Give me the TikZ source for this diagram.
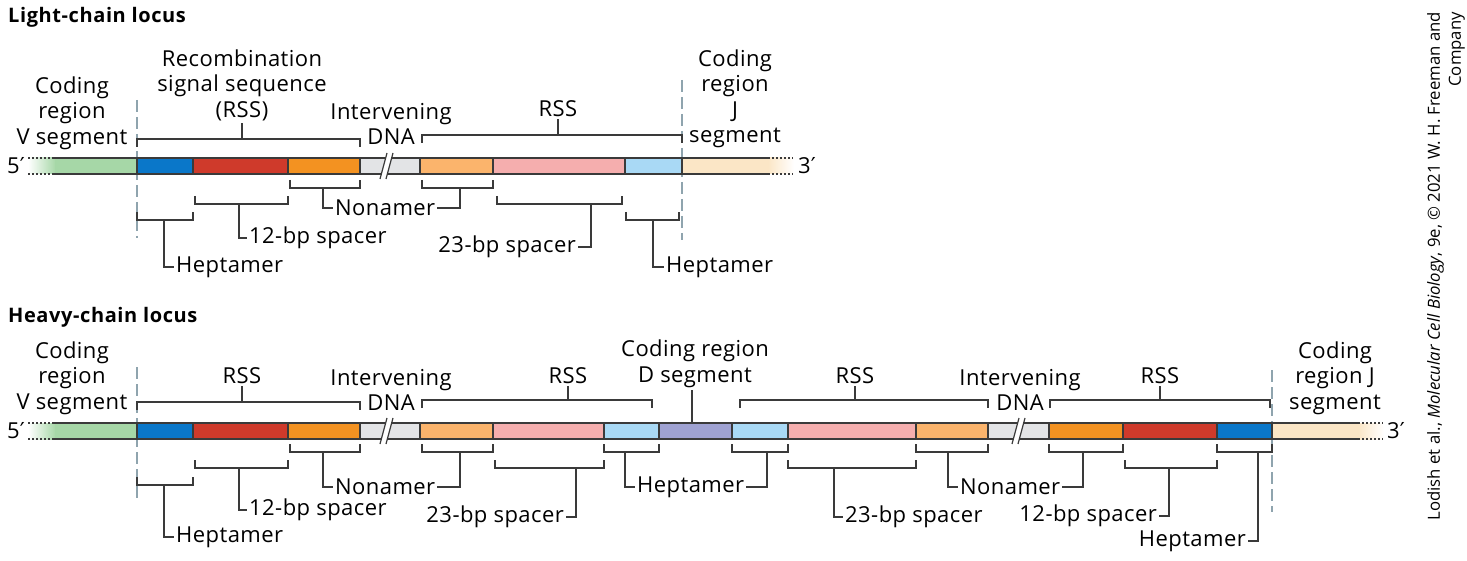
\documentclass[tikz,border=0pt]{standalone}
\usepackage{fontspec}
\setmainfont{Open Sans}
\newfontfamily\lblfont[LetterSpace=2]{Open Sans}
\newfontfamily\ttlfont[LetterSpace=3]{Open Sans}
\newfontfamily\primefont{DejaVu Sans}
\definecolor{lineC}{HTML}{3A3A3A}
\definecolor{dashC}{HTML}{8FA4AE}
\definecolor{cGreen}{HTML}{A6D7A7}
\definecolor{cBlue}{HTML}{0A77C9}
\definecolor{cRed}{HTML}{CF3A2B}
\definecolor{cOrange}{HTML}{F39221}
\definecolor{cGray}{HTML}{E3E4E6}
\definecolor{cLOrange}{HTML}{FBB46C}
\definecolor{cPink}{HTML}{F5AEAE}
\definecolor{cLBlue}{HTML}{A9D9F5}
\definecolor{cPurple}{HTML}{9FA2D2}
\definecolor{cCream}{HTML}{FBE6C6}
\newcommand\segm[4]{\filldraw[fill=#1, draw=lineC, line width=1.2pt] (#2,#4) rectangle (#3,#4+16);}
\newcommand\botbrk[3]{\draw[brk] (#1,#3-8) -- (#1,#3) -- (#2,#3) -- (#2,#3-8);}
\newcommand\topbrk[3]{\draw[brk] (#1,#3+8) -- (#1,#3) -- (#2,#3) -- (#2,#3+8);}
\newcommand\brkmark[2]{% x, ytop
  \fill[white] (#1,#2+21) -- (#1+7,#2-5) -- (#1+13,#2-5) -- (#1+6,#2+21) -- cycle;
  \draw[lineC, line width=1.2pt] (#1,#2+21) -- (#1+7,#2-5) (#1+6,#2+21) -- (#1+13,#2-5);}
\newcommand\leftend[1]{% ytop
  \shade[left color=white, right color=cGreen] (28,#1) rectangle (56,#1+16);
  \fill[cGreen] (55,#1) rectangle (137,#1+16);
  \draw[edge] (52,#1) -- (137,#1) (52,#1+16) -- (137,#1+16);
  \draw[edge, dash pattern=on 2pt off 2pt] (28,#1) -- (52,#1) (28,#1+16) -- (52,#1+16);}
\newcommand\rightend[3]{% xstart, xsolidend, ytop
  \fill[cCream] (#1,#3) rectangle (#2+2,#3+16);
  \shade[left color=cCream, right color=white] (#2,#3) rectangle (#2+26,#3+16);
  \draw[edge] (#1,#3) -- (#2,#3) (#1,#3+16) -- (#2,#3+16);
  \draw[edge, dash pattern=on 2pt off 2pt] (#2,#3) -- (#2+25,#3) (#2,#3+16) -- (#2+25,#3+16);}
\begin{document}
\begin{tikzpicture}[x=1pt,y=-1pt,
  lbl/.style={font=\lblfont\fontsize{22}{25.5}\selectfont, inner sep=2pt, align=center},
  brk/.style={draw=lineC, line width=1.4pt},
  edge/.style={draw=lineC, line width=1.2pt},
  vdash/.style={draw=dashC, line width=1.5pt, dash pattern=on 12pt off 5pt},
  ttl/.style={font=\ttlfont\bfseries\fontsize{20}{24}\selectfont, anchor=west, inner sep=0pt}]
\useasboundingbox (0,0) rectangle (1467,561);

% ---------------- Light chain ----------------
\node[ttl] (lTitle) at (8,17) {Light-chain locus};
\draw[vdash] (137,100) -- (137,238);
\draw[vdash] (682,80) -- (682,240);
\leftend{158}
\rightend{682}{768}{158}
\segm{cBlue}{137}{193}{158}
\segm{cRed}{193}{288}{158}
\segm{cOrange}{288}{360}{158}
\segm{cGray}{360}{420}{158}
\segm{cLOrange}{420}{493}{158}
\segm{cPink}{493}{625}{158}
\segm{cLBlue}{625}{682}{158}
\brkmark{380}{158}
\node[lbl] (l5) at (16,166) {5{\primefont′}};
\node[lbl] (l3) at (807,166) {3{\primefont′}};

\node[lbl] (lCodV) at (72,113) {Coding\\region\\V segment};
\node[lbl] (lRSSt) at (242,85) {Recombination\\signal sequence\\(RSS)};
\node[lbl] (lInt) at (391,124) {Intervening\\DNA};
\node[lbl] (lRSS2) at (558,109) {RSS};
\node[lbl] (lCodJ) at (735,99) {Coding\\region\\J\\segment};
\topbrk{137}{360}{139}
\draw[brk] (242,139) -- (lRSSt.south);
\topbrk{422}{682}{135}
\draw[brk] (558,135) -- (lRSS2.south);

\botbrk{137}{193}{220}
\botbrk{195}{288}{204}
\botbrk{290}{360}{188}
\botbrk{422}{493}{188}
\botbrk{497}{622}{204}
\botbrk{626}{679}{220}
\node[lbl, anchor=west] (lHep1) at (174,267) {Heptamer};
\draw[brk] (164,220) |- (lHep1.west);
\node[lbl, anchor=west] (lSp12) at (247,238) {12-bp spacer};
\draw[brk] (239,204) |- (lSp12.west);
\node[lbl, anchor=west] (lNon) at (333,208) {Nonamer};
\draw[brk] (323,188) |- (lNon.west);
\draw[brk] (460,188) |- (lNon.east);
\node[lbl, anchor=east] (lSp23) at (578,247) {23-bp spacer};
\draw[brk] (591,204) |- (lSp23.east);
\node[lbl, anchor=west] (lHep2) at (664,267) {Heptamer};
\draw[brk] (653,220) |- (lHep2.west);

% ---------------- Heavy chain ----------------
\node[ttl] (hTitle) at (8,317) {Heavy-chain locus};
\draw[vdash] (137,367) -- (137,502);
\draw[vdash] (1272,370) -- (1272,512);
\leftend{423}
\rightend{1272}{1358}{423}
\segm{cBlue}{137}{193}{423}
\segm{cRed}{193}{288}{423}
\segm{cOrange}{288}{360}{423}
\segm{cGray}{360}{420}{423}
\segm{cLOrange}{420}{493}{423}
\segm{cPink}{493}{604}{423}
\segm{cLBlue}{604}{659}{423}
\segm{cPurple}{659}{732}{423}
\segm{cLBlue}{732}{788}{423}
\segm{cPink}{788}{916}{423}
\segm{cLOrange}{916}{988}{423}
\segm{cGray}{988}{1049}{423}
\segm{cOrange}{1049}{1123}{423}
\segm{cRed}{1123}{1217}{423}
\segm{cBlue}{1217}{1272}{423}
\brkmark{380}{423}
\brkmark{1012}{423}
\node[lbl] (h5) at (16,431) {5{\primefont′}};
\node[lbl] (h3) at (1396,431) {3{\primefont′}};

\node[lbl] (hCodV) at (72,378) {Coding\\region\\V segment};
\node[lbl] (hRSSa) at (242,376) {RSS};
\node[lbl] (hInt1) at (391,390) {Intervening\\DNA};
\node[lbl] (hRSSb) at (568,376) {RSS};
\node[lbl] (hCodD) at (695,364) {Coding region\\D segment};
\node[lbl] (hRSSc) at (855,376) {RSS};
\node[lbl] (hInt2) at (1020,390) {Intervening\\DNA};
\node[lbl] (hRSSd) at (1160,376) {RSS};
\node[lbl] (hCodJ) at (1335,378) {Coding\\region J\\segment};
\topbrk{137}{360}{402}
\draw[brk] (242,402) -- (hRSSa.south);
\topbrk{422}{652}{400}
\draw[brk] (568,400) -- (hRSSb.south);
\draw[brk] (692,423) -- (hCodD.south -| 692,0);
\topbrk{740}{988}{400}
\draw[brk] (855,400) -- (hRSSc.south);
\topbrk{1050}{1270}{400}
\draw[brk] (1160,400) -- (hRSSd.south);

\botbrk{137}{193}{485}
\botbrk{195}{288}{468}
\botbrk{290}{360}{452}
\botbrk{422}{493}{452}
\botbrk{495}{604}{468}
\botbrk{604}{659}{452}
\botbrk{732}{788}{452}
\botbrk{788}{916}{468}
\botbrk{916}{988}{452}
\botbrk{1049}{1123}{452}
\botbrk{1125}{1217}{468}
\botbrk{1217}{1272}{452}
\node[lbl, anchor=west] (hHepA) at (174,537) {Heptamer};
\draw[brk] (164,485) |- (hHepA.west);
\node[lbl, anchor=west] (hSp12a) at (247,510) {12-bp spacer};
\draw[brk] (239,468) |- (hSp12a.west);
\node[lbl, anchor=west] (hNonA) at (333,487) {Nonamer};
\draw[brk] (323,452) |- (hNonA.west);
\draw[brk] (460,452) |- (hNonA.east);
\node[lbl, anchor=east] (hSp23a) at (566,517) {23-bp spacer};
\draw[brk] (576,468) |- (hSp23a.east);
\node[lbl, anchor=west] (hHepB) at (635,487) {Heptamer};
\draw[brk] (625,452) |- (hHepB.west);
\draw[brk] (767,452) |- (hHepB.east);
\node[lbl, anchor=west] (hSp23b) at (843,517) {23-bp spacer};
\draw[brk] (834,468) |- (hSp23b.west);
\node[lbl, anchor=west] (hNonB) at (958,487) {Nonamer};
\draw[brk] (948,452) |- (hNonB.west);
\draw[brk] (1083,452) |- (hNonB.east);
\node[lbl, anchor=east] (hSp12b) at (1159,516) {12-bp spacer};
\draw[brk] (1169,468) |- (hSp12b.east);
\node[lbl, anchor=east] (hHepC) at (1248,541) {Heptamer};
\draw[brk] (1258,452) |- (hHepC.east);

% credit
\node[rotate=90, anchor=north east, align=right, inner sep=0pt,
      font=\fontsize{16.7}{21}\selectfont] (credit) at (1427,12)
  {Lodish et al., \textit{Molecular Cell Biology}, 9e, \textcopyright{} 2021 W. H. Freeman and\\ Company};
\end{tikzpicture}
\end{document}
